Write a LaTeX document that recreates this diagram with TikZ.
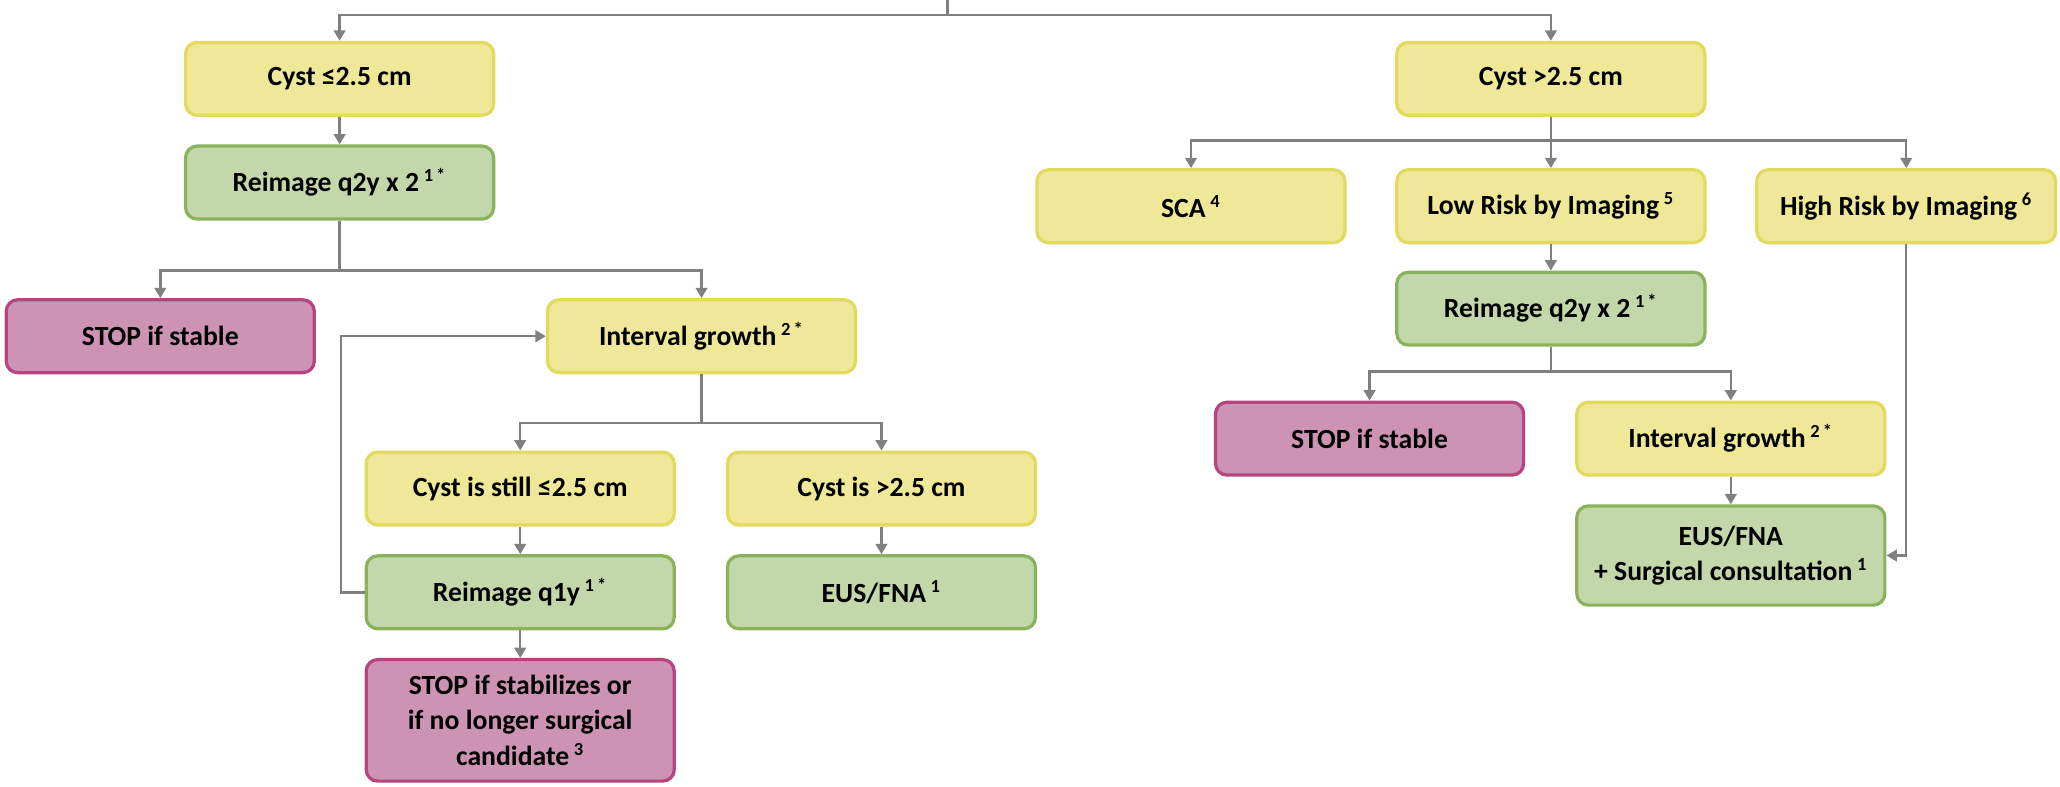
\documentclass[tikz,border=0pt]{standalone}
\usepackage{fontspec}
\setmainfont{Carlito}
\usepackage{tikz}
\usetikzlibrary{arrows.meta, positioning, calc}
\usepackage{xcolor}

\definecolor{yfill}{RGB}{239,232,153}
\definecolor{ydraw}{RGB}{226,218,92}
\definecolor{gfill}{RGB}{195,216,170}
\definecolor{gdraw}{RGB}{138,178,92}
\definecolor{pfill}{RGB}{205,147,181}
\definecolor{pdraw}{RGB}{182,68,126}
\definecolor{lgray}{RGB}{128,128,128}

\begin{document}
\begin{tikzpicture}[
    node distance=0.42cm and 0.76cm,
    base/.style={rectangle, rounded corners=5pt, line width=1.4pt,
                 minimum width=4.69cm, minimum height=1.11cm, align=center,
                 font=\fontsize{12}{15.5}\selectfont\bfseries, inner sep=2pt},
    ybox/.style={base, draw=ydraw, fill=yfill},
    gbox/.style={base, draw=gdraw, fill=gfill},
    pbox/.style={base, draw=pdraw, fill=pfill},
    arr/.style={-{Triangle[length=4.5pt, width=5pt]}, line width=1.1pt, draw=lgray}
]
\useasboundingbox (0,0) rectangle (31.36,-11.98);

% left branch
\coordinate (root) at (14.42,0);
\node[ybox] (cystS) at (5.17,-1.2) {Cyst ≤2.5 cm};
\node[gbox, below=of cystS] (reimgA) {Reimage q2y x 2\,\textsuperscript{1\,*}};
\node[pbox, below=1.18cm of reimgA, xshift=-2.73cm] (stopA) {STOP if stable};
\node[ybox, right=3.5cm of stopA] (growA) {Interval growth\,\textsuperscript{2\,*}};
\node[ybox, below=1.16cm of growA, xshift=-2.76cm] (stillS) {Cyst is still ≤2.5 cm};
\node[ybox, right=of stillS] (isL) {Cyst is >2.5 cm};
\node[gbox, below=of stillS] (reimgY) {Reimage q1y\,\textsuperscript{1\,*}};
\node[gbox, below=of isL] (eusA) {EUS/FNA\,\textsuperscript{1}};
\node[pbox, below=of reimgY, minimum height=1.85cm] (stopY) {STOP if stabilizes or\\if no longer surgical\\candidate\,\textsuperscript{3}};

% right branch
\node[ybox, right=13.7cm of cystS] (cystL) {Cyst >2.5 cm};
\node[ybox, below=0.78cm of cystL] (lowR) {Low Risk by Imaging\,\textsuperscript{5}};
\node[ybox, left=0.74cm of lowR] (sca) {SCA\,\textsuperscript{4}};
\node[ybox, right=0.74cm of lowR, minimum width=4.55cm] (highR) {High Risk by Imaging\,\textsuperscript{6}};
\node[gbox, below=0.4cm of lowR] (reimgB) {Reimage q2y x 2\,\textsuperscript{1\,*}};
\node[pbox, below=0.82cm of reimgB, xshift=-2.76cm] (stopB) {STOP if stable};
\node[ybox, right=of stopB] (growB) {Interval growth\,\textsuperscript{2\,*}};
\node[gbox, below=of growB, minimum height=1.51cm] (eusB) {EUS/FNA\\+ Surgical consultation\,\textsuperscript{1}};

% connectors
\draw[arr] (root) -- ++(0,-0.23) -| (cystS);
\draw[arr] (root) -- ++(0,-0.23) -| (cystL);
\draw[arr] (cystS) -- (reimgA);
\draw[arr] (reimgA.south) -- ++(0,-0.76) -| (stopA);
\draw[arr] (reimgA.south) -- ++(0,-0.76) -| (growA);
\draw[arr] (growA.south) -- ++(0,-0.74) -| (stillS);
\draw[arr] (growA.south) -- ++(0,-0.74) -| (isL);
\draw[arr] (stillS) -- (reimgY);
\draw[arr] (isL) -- (eusA);
\draw[arr] (reimgY) -- (stopY);
\draw[arr] (reimgY.west) -- ++(-0.36,0) |- (growA.west);

\draw[arr] (cystL.south) -- ++(0,-0.36) -| (sca);
\draw[arr] (cystL.south) -- ++(0,-0.36) -| (highR);
\draw[arr] (cystL) -- (lowR);
\draw[arr] (lowR) -- (reimgB);
\draw[arr] (reimgB.south) -- ++(0,-0.38) -| (stopB);
\draw[arr] (reimgB.south) -- ++(0,-0.38) -| (growB);
\draw[arr] (growB) -- (eusB);
\draw[arr] (highR.south) |- (eusB.east);
\end{tikzpicture}
\end{document}
